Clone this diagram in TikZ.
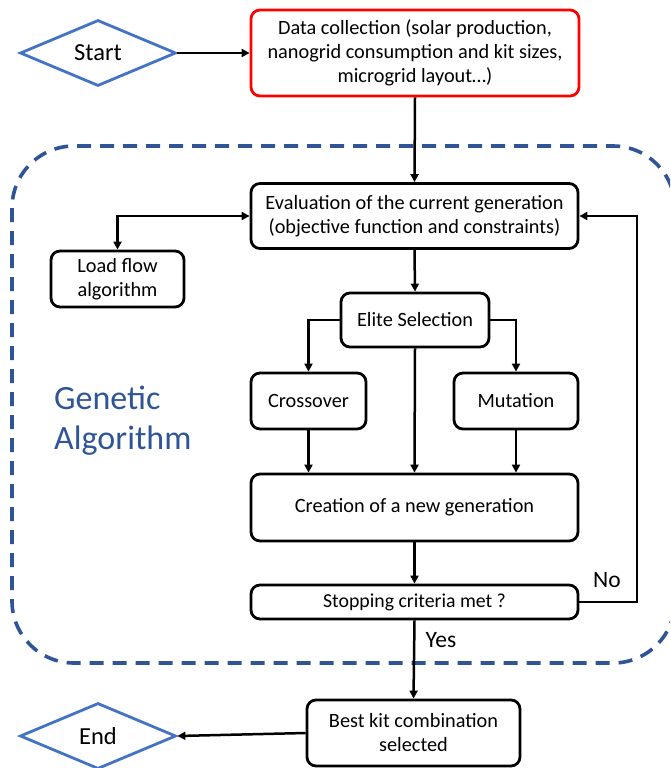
\documentclass[tikz,border=0pt]{standalone}
\usepackage{fontspec}
\setmainfont{Carlito}
\usetikzlibrary{shapes.geometric,arrows.meta}
\definecolor{gablue}{RGB}{47,85,151}
\definecolor{diablue}{RGB}{68,114,196}
\tikzset{
  box/.style={draw, line width=2.8pt, rounded corners=9pt, align=center, inner sep=0pt,
    font=\fontsize{20.3}{24}\selectfont},
  redbox/.style={box, draw=red},
  dia/.style={draw=diablue, line width=2.8pt, diamond, aspect=2.36, inner sep=0pt,
    minimum width=156pt, minimum height=66pt, font=\fontsize{24.5}{28}\selectfont},
  conn/.style={line width=2.5pt, -{Triangle[length=8pt,width=8pt]}},
  lbl/.style={font=\fontsize{23.5}{27}\selectfont, inner sep=0pt},
}
\begin{document}
\begin{tikzpicture}[x=1pt,y=-1pt]
\path[use as bounding box, clip] (0,0) rectangle (670,768);
% dashed GA region
\draw[gablue, line width=3.6pt, dash pattern=on 14pt off 9pt, rounded corners=62pt]
  (12,146) rectangle (675,663);
\node[font=\fontsize{34}{40}\selectfont, text=gablue, align=left, anchor=west, inner sep=0pt]
  (ga) at (54,421) {Genetic\\Algorithm};
% nodes
\node[dia] (start) at (98,53) {Start};
\node[redbox, minimum width=328pt, minimum height=86pt] (data) at (415,53)
  {Data collection (solar production,\\nanogrid consumption and kit sizes,\\microgrid layout\dots)};
\node[box, minimum width=327pt, minimum height=65pt] (eval) at (414.5,216)
  {Evaluation of the current generation\\(objective function and constraints)};
\node[box, minimum width=133pt, minimum height=56pt] (load) at (117.5,279)
  {Load flow\\algorithm};
\node[box, minimum width=148pt, minimum height=54pt] (elite) at (415,320) {Elite Selection};
\node[box, minimum width=115pt, minimum height=56pt] (cross) at (308.5,401) {Crossover};
\node[box, minimum width=124pt, minimum height=56pt] (mut) at (516,401) {Mutation};
\node[box, minimum width=327pt, minimum height=67pt] (create) at (414.5,507.5)
  {Creation of a new generation};
\node[box, minimum width=327pt, minimum height=34pt, font=\fontsize{19.8}{22}\selectfont] (stop) at (414.5,602)
  {Stopping criteria met ?};
\node[box, minimum width=213pt, minimum height=66pt] (best) at (413.5,733)
  {Best kit combination\\selected};
\node[dia] (end) at (98,736) {End};
\coordinate (loopR) at (637,602);
% connectors
\draw[conn] (start.east) -- (data.west);
\draw[conn] (data.south) -- (eval.north);
\draw[conn, {Triangle[length=8pt,width=8pt]}-{Triangle[length=8pt,width=8pt]}] (eval.west) -| (load.north);
\draw[conn] (stop.east) -- (loopR) |- (eval.east);
\draw[conn] (eval.south) -- (elite.north);
\draw[conn] (elite.west) -| (cross.north);
\draw[conn] (elite.east) -| (mut.north);
\draw[conn] (elite.south) -- (create.north);
\draw[conn] (cross.south) -- (cross.south |- create.north);
\draw[conn] (mut.south) -- (mut.south |- create.north);
\draw[conn] (create.south) -- (stop.north);
\draw[conn] (stop.south) -- (best.north);
\draw[conn] (best.west) -- (end.east);
\node[lbl] (no) at (607,580) {No};
\node[lbl] (yes) at (441,640) {Yes};
\end{tikzpicture}
\end{document}
